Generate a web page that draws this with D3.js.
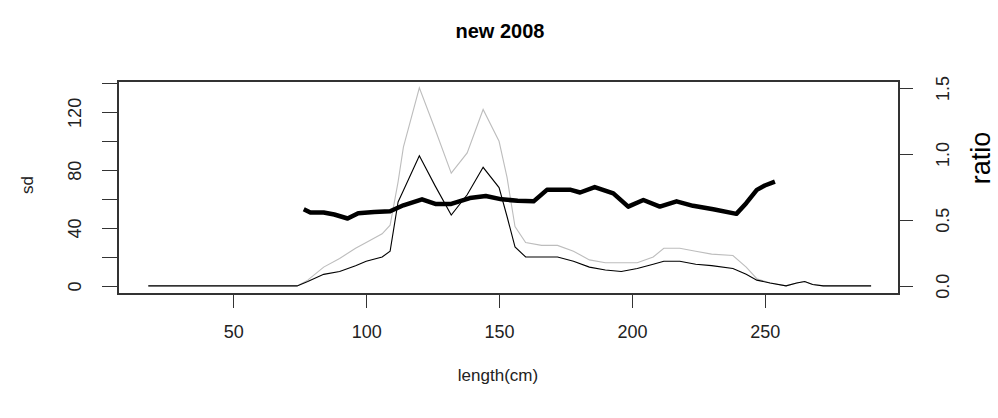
<!DOCTYPE html>
<html>
<head>
<meta charset="utf-8">
<script src="https://cdn.jsdelivr.net/npm/d3@7"></script>
<style>
  body { margin: 0; background: #fff; }
  svg text { font-family: "Liberation Sans", Arial, sans-serif; }
</style>
</head>
<body>
<svg id="chart" width="998" height="418"></svg>
<script>
// length classes (cm) for the two thin sd curves
var lengthCm = [18, 74, 78, 84, 90, 96, 100, 106, 109, 112, 114, 120, 126, 132, 138, 144, 150, 153, 156, 160,
                166, 172, 178, 184, 190, 196, 202, 208, 212, 218, 224, 230, 238, 243, 247, 252, 258, 262, 265, 268, 272, 290];
var sdGrey  = [0, 0, 4, 13, 19, 26, 30, 36, 42, 72, 96, 137, 108, 78, 92, 122, 100, 75, 41, 30,
               28, 28, 24, 18, 16, 16, 16, 20, 26, 26, 24, 22, 21, 13, 5, 2, 0, 2, 3, 1, 0, 0];
var sdBlack = [0, 0, 3, 8, 10, 14, 17, 20, 24, 58, 66, 90, 69, 49, 63, 82, 68, 48, 27, 20,
               20, 20, 17, 13, 11, 10, 12, 15, 17, 17, 15, 14, 12, 8, 4, 2, 0, 2, 3, 1, 0, 0];

// ratio curve (right axis)
var ratioLen = [76.5, 79, 84, 88, 93, 97, 103, 109, 114, 121, 126, 132, 139, 145, 151, 157, 163, 168, 177,
                180.5, 186, 193, 198.6, 204.3, 210.5, 216.8, 223, 230.6, 239.3, 243, 247, 250, 253.8];
var ratioVal = [0.58, 0.555, 0.555, 0.54, 0.51, 0.55, 0.56, 0.565, 0.61, 0.655, 0.62, 0.62, 0.665, 0.68, 0.655,
                0.645, 0.64, 0.727, 0.727, 0.707, 0.748, 0.70, 0.60, 0.65, 0.60, 0.64, 0.606, 0.58, 0.545,
                0.626, 0.727, 0.76, 0.79];

var xTicks = [50, 100, 150, 200, 250];
var sdTicks = [0, 20, 40, 60, 80, 100, 120, 140];
var sdLabels = [0, 40, 80, 120];
var ratioTicks = [0, 0.5, 1.0, 1.5];

var box = {left: 118, right: 899, top: 81, bottom: 294};
var svg = d3.select('#chart');

var x = d3.scaleLinear().domain([6.6, 300.5]).range([box.left, box.right]);
var ySd = d3.scaleLinear().domain([-5.6, 141.7]).range([box.bottom, box.top]);
var yRatio = d3.scaleLinear().domain([-0.063, 1.553]).range([box.bottom, box.top]);

var txt = '#222';

// title
svg.append('text')
    .attr('x', 500).attr('y', 38)
    .attr('text-anchor', 'middle')
    .attr('font-size', 20).attr('font-weight', 'bold')
    .attr('fill', '#000')
    .text('new 2008');

// lines
var line = d3.line();
function pts(xs, ys, ys2) {
    return xs.map(function (d, i) { return [x(d), ys2(ys[i])]; });
}

svg.append('path')
    .attr('d', line(pts(lengthCm, sdGrey, ySd)))
    .attr('fill', 'none').attr('stroke', '#bdbdbd').attr('stroke-width', 1.1);

svg.append('path')
    .attr('d', line(pts(lengthCm, sdBlack, ySd)))
    .attr('fill', 'none').attr('stroke', '#000').attr('stroke-width', 1.1);

svg.append('path')
    .attr('d', line(pts(ratioLen, ratioVal, yRatio)))
    .attr('fill', 'none').attr('stroke', '#000').attr('stroke-width', 4.5)
    .attr('stroke-linejoin', 'round');

// box
svg.append('rect')
    .attr('x', box.left).attr('y', box.top)
    .attr('width', box.right - box.left).attr('height', box.bottom - box.top)
    .attr('fill', 'none').attr('stroke', '#333').attr('stroke-width', 1.2)
    .attr('shape-rendering', 'crispEdges');

// bottom axis
var gx = svg.append('g').attr('transform', 'translate(0,' + box.bottom + ')')
    .call(d3.axisBottom(x).tickValues(xTicks).tickSize(14).tickPadding(0).tickFormat(d3.format('d')));
gx.select('.domain').remove();
gx.selectAll('line').attr('stroke', '#333').attr('shape-rendering', 'crispEdges');
gx.selectAll('text').attr('font-size', 18).attr('fill', txt).attr('dy', null).attr('y', 44);

// left axis
var gl = svg.append('g').attr('transform', 'translate(' + box.left + ',0)')
    .call(d3.axisLeft(ySd).tickValues(sdTicks).tickSize(16)
        .tickFormat(function (d) { return sdLabels.indexOf(d) >= 0 ? d : ''; }));
gl.select('.domain').attr('stroke', '#333')
    .attr('d', 'M0,' + ySd(0) + 'V' + ySd(140));
gl.selectAll('line').attr('stroke', '#333').attr('shape-rendering', 'crispEdges');
gl.selectAll('text')
    .attr('font-size', 18).attr('fill', txt)
    .attr('x', null).attr('dy', null)
    .attr('text-anchor', 'middle')
    .attr('transform', 'translate(-43,0) rotate(-90)')
    .attr('y', 6);

// right axis
var gr = svg.append('g').attr('transform', 'translate(' + box.right + ',0)')
    .call(d3.axisRight(yRatio).tickValues(ratioTicks).tickSize(14).tickFormat(d3.format('.1f')));
gr.select('.domain').attr('stroke', '#333')
    .attr('d', 'M0,' + yRatio(0) + 'V' + yRatio(1.5));
gr.selectAll('line').attr('stroke', '#333').attr('shape-rendering', 'crispEdges');
gr.selectAll('text')
    .attr('font-size', 18).attr('fill', txt)
    .attr('x', null).attr('dy', null)
    .attr('text-anchor', 'middle')
    .attr('transform', 'translate(44,0) rotate(-90)')
    .attr('y', 6);

// axis titles
svg.append('text')
    .attr('transform', 'translate(33,185) rotate(-90)')
    .attr('text-anchor', 'middle')
    .attr('font-size', 17).attr('fill', txt)
    .text('sd');

svg.append('text')
    .attr('x', 498).attr('y', 381)
    .attr('text-anchor', 'middle')
    .attr('font-size', 17).attr('fill', txt)
    .text('length(cm)');

svg.append('text')
    .attr('transform', 'translate(990,158) rotate(-90)')
    .attr('text-anchor', 'middle')
    .attr('font-size', 27).attr('fill', '#000')
    .text('ratio');
</script>
</body>
</html>
